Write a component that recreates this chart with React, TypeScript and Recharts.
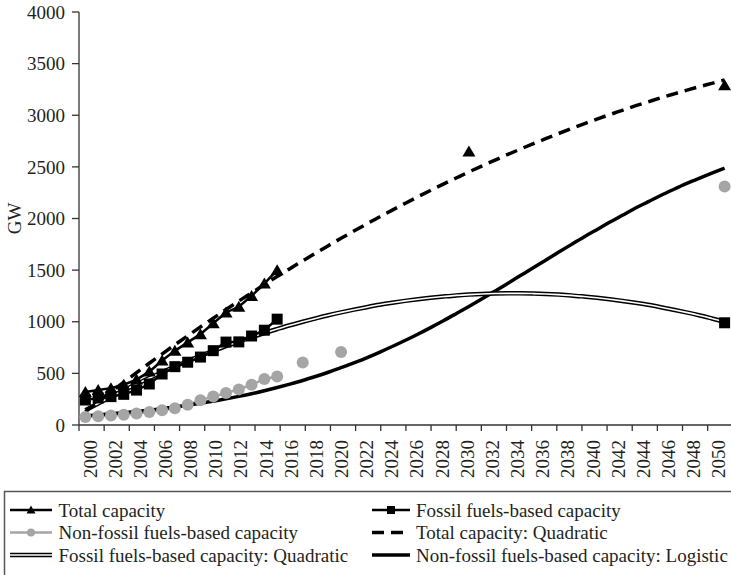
import React from 'react';
import { LineChart, Line, XAxis, YAxis } from 'recharts';

const FONT = "'Liberation Serif', 'Times New Roman', serif";
const INK = '#231f20';
const GREY = '#a5a5a5';

// every year on the x axis
const years = [
  2000, 2001, 2002, 2003, 2004, 2005, 2006, 2007, 2008, 2009,
  2010, 2011, 2012, 2013, 2014, 2015, 2016, 2017, 2018, 2019,
  2020, 2021, 2022, 2023, 2024, 2025, 2026, 2027, 2028, 2029,
  2030, 2031, 2032, 2033, 2034, 2035, 2036, 2037, 2038, 2039,
  2040, 2041, 2042, 2043, 2044, 2045, 2046, 2047, 2048, 2049, 2050,
];

// observed capacity, GW
const obsYears = [2000, 2001, 2002, 2003, 2004, 2005, 2006, 2007, 2008, 2009, 2010, 2011, 2012, 2013, 2014, 2015];
const totalCapacity = [320, 338, 357, 390, 440, 517, 625, 718, 800, 880, 985, 1090, 1145, 1250, 1370, 1500];
const fossilCapacity = [242, 262, 275, 297, 338, 397, 494, 565, 608, 658, 720, 803, 805, 862, 918, 1025];
const nonFossilCapacity = [78, 85, 91, 100, 112, 127, 143, 163, 195, 240, 275, 310, 345, 390, 445, 470];

// later single points
const totalLaterYears = [2030, 2050];
const totalLater = [2650, 3290];
const fossilLaterYears = [2050];
const fossilLater = [990];
const nonFossilLaterYears = [2017, 2020, 2050];
const nonFossilLater = [605, 708, 2310];

// fitted curves, one value per year 2000..2050
const totalQuadratic = [
  129, 225, 321, 414, 507, 598, 688, 777, 864, 950,
  1034, 1118, 1200, 1280, 1360, 1438, 1514, 1590, 1664, 1737,
  1808, 1878, 1947, 2015, 2081, 2146, 2210, 2272, 2333, 2392,
  2451, 2508, 2563, 2618, 2671, 2723, 2773, 2822, 2870, 2917,
  2962, 3006, 3048, 3090, 3129, 3168, 3205, 3241, 3276, 3309, 3342,
];
const fossilQuadratic = [
  142, 208, 273, 336, 396, 455, 511, 566, 618, 669,
  717, 764, 808, 851, 891, 929, 966, 1000, 1032, 1063,
  1091, 1117, 1141, 1164, 1184, 1202, 1218, 1232, 1244, 1255,
  1263, 1269, 1273, 1275, 1275, 1273, 1269, 1263, 1255, 1244,
  1232, 1218, 1202, 1184, 1164, 1141, 1117, 1091, 1063, 1032, 1000,
];
const nonFossilLogistic = [
  89, 98, 108, 119, 131, 144, 159, 174, 192, 210,
  231, 253, 277, 303, 332, 363, 396, 431, 470, 511,
  555, 602, 651, 704, 760, 818, 879, 943, 1009, 1078,
  1148, 1220, 1294, 1369, 1445, 1521, 1596, 1672, 1747, 1821,
  1892, 1963, 2031, 2099, 2161, 2223, 2281, 2337, 2389, 2439, 2487,
];

const xTickLabels = [
  '2000', '2002', '2004', '2006', '2008', '2010', '2012', '2014', '2016', '2018',
  '2020', '2022', '2024', '2026', '2028', '2030', '2032', '2034', '2036', '2038',
  '2040', '2042', '2044', '2046', '2048', '2050',
];
const yTicks = [0, 500, 1000, 1500, 2000, 2500, 3000, 3500, 4000];

const pick = (ys: number[], vs: number[], year: number) => {
  const i = ys.indexOf(year);
  return i >= 0 ? vs[i] : undefined;
};

const data = years.map((year, i) => ({
  year,
  total: pick(obsYears, totalCapacity, year) ?? pick(totalLaterYears, totalLater, year),
  fossil: pick(obsYears, fossilCapacity, year) ?? pick(fossilLaterYears, fossilLater, year),
  nonFossil: pick(obsYears, nonFossilCapacity, year) ?? pick(nonFossilLaterYears, nonFossilLater, year),
  totalQ: totalQuadratic[i],
  fossilQ: fossilQuadratic[i],
  nonFossilL: nonFossilLogistic[i],
}));

// the printed axis groups two years per slot, a touch narrower than the data years
const X_MIN = 1999.5;
const X_MAX = 2050.5;
const SLOT = 1.967;
const tickPositions = xTickLabels.flatMap((_, i) => [X_MIN + SLOT * i, X_MIN + SLOT * (i + 0.5)]);

const XTick = (props: any) => {
  const { x, y, index } = props;
  if (index % 2 === 0) {
    return <line x1={x} x2={x} y1={y - 15} y2={y - 9} stroke="#333" strokeWidth={1.3} />;
  }
  const lx = x - 1.5;
  return (
    <text
      x={lx}
      y={y}
      transform={`rotate(-90, ${lx}, ${y})`}
      textAnchor="end"
      dominantBaseline="central"
      fontSize={19}
      fontFamily={FONT}
      fill={INK}
    >
      {xTickLabels[(index - 1) / 2]}
    </text>
  );
};

const TriangleDot = (props: any) => {
  const { cx, cy, index } = props;
  if (cx == null || cy == null) return <g key={`t${index}`} />;
  return <path key={`t${index}`} d={`M${cx},${cy - 6} L${cx + 6.5},${cy + 5} L${cx - 6.5},${cy + 5} Z`} fill="#000" />;
};

const SquareDot = (props: any) => {
  const { cx, cy, index } = props;
  if (cx == null || cy == null) return <g key={`s${index}`} />;
  return <rect key={`s${index}`} x={cx - 5.5} y={cy - 5.5} width={11} height={11} fill="#000" />;
};

const CircleDot = (props: any) => {
  const { cx, cy, index } = props;
  if (cx == null || cy == null) return <g key={`c${index}`} />;
  return <circle key={`c${index}`} cx={cx} cy={cy} r={6} fill={GREY} />;
};

const Overlay = () => {
  const c1 = 10, c1e = 52, t1 = 58.5;
  const c2 = 372, c2e = 410, t2 = 416;
  const r1 = 510, r2 = 532.5, r3 = 555;
  const txt = { fontSize: 19, fontFamily: FONT, fill: INK, dominantBaseline: 'central' as const };
  return (
    <svg width={731} height={575} style={{ position: 'absolute', left: 0, top: 0, pointerEvents: 'none' }}>
      <text x={14.5} y={218.5} transform="rotate(-90, 14.5, 218.5)" textAnchor="middle" {...txt}>GW</text>
      <rect x={4.5} y={491.5} width={760} height={120} fill="none" stroke="#555" strokeWidth={1.5} />

      <line x1={c1} x2={c1e} y1={r1} y2={r1} stroke="#000" strokeWidth={2.5} />
      <path d={`M${(c1 + c1e) / 2},${r1 - 4.5} L${(c1 + c1e) / 2 + 4.5},${r1 + 3.5} L${(c1 + c1e) / 2 - 4.5},${r1 + 3.5} Z`} fill="#000" />
      <text x={t1} y={r1} {...txt}>Total capacity</text>

      <line x1={c1} x2={c1e} y1={r2} y2={r2} stroke={GREY} strokeWidth={2.5} />
      <circle cx={(c1 + c1e) / 2} cy={r2} r={4} fill={GREY} />
      <text x={t1} y={r2} {...txt}>Non-fossil fuels-based capacity</text>

      <line x1={c1} x2={c1e} y1={r3} y2={r3} stroke="#000" strokeWidth={4.5} />
      <line x1={c1} x2={c1e} y1={r3} y2={r3} stroke="#fff" strokeWidth={1.6} />
      <text x={t1} y={r3} {...txt}>Fossil fuels-based capacity: Quadratic</text>

      <line x1={c2} x2={c2e} y1={r1} y2={r1} stroke="#000" strokeWidth={2.5} />
      <rect x={(c2 + c2e) / 2 - 4} y={r1 - 4} width={8} height={8} fill="#000" />
      <text x={t2} y={r1} {...txt}>Fossil fuels-based capacity</text>

      <line x1={c2} x2={c2e} y1={r2} y2={r2} stroke="#000" strokeWidth={3.5} strokeDasharray="12 7" />
      <text x={t2} y={r2} {...txt}>Total capacity: Quadratic</text>

      <line x1={c2} x2={c2e} y1={r3} y2={r3} stroke="#000" strokeWidth={3.5} />
      <text x={t2} y={r3} {...txt}>Non-fossil fuels-based capacity: Logistic</text>
    </svg>
  );
};

export default function App() {
  return (
    <div style={{ position: 'absolute', left: 0, top: 0, width: 731, height: 575, background: '#fff', fontFamily: FONT }}>
      <LineChart width={731} height={575} data={data} margin={{ top: 12, right: 0, bottom: 84, left: 0 }}>
        <XAxis
          xAxisId="yr"
          type="number"
          dataKey="year"
          domain={[X_MIN, X_MAX]}
          allowDataOverflow
          ticks={tickPositions}
          interval={0}
          height={66}
          tickSize={6}
          tickMargin={9}
          tickLine={false}
          tick={<XTick />}
          axisLine={{ stroke: '#333', strokeWidth: 1.3 }}
        />
        <YAxis
          type="number"
          domain={[0, 4000]}
          ticks={yTicks}
          interval={0}
          width={79}
          tickSize={7}
          tickMargin={7}
          tick={{ fill: INK, fontSize: 19, fontFamily: FONT }}
          axisLine={{ stroke: '#333', strokeWidth: 1.3 }}
          tickLine={{ stroke: '#333', strokeWidth: 1.3 }}
        />
        <Line xAxisId="yr" dataKey="nonFossil" type="linear" stroke={GREY} strokeWidth={2.5} dot={<CircleDot />} activeDot={false} connectNulls={false} isAnimationActive={false} />
        <Line xAxisId="yr" dataKey="nonFossilL" type="monotone" stroke="#000" strokeWidth={3.5} dot={false} activeDot={false} isAnimationActive={false} />
        <Line xAxisId="yr" dataKey="fossilQ" type="monotone" stroke="#000" strokeWidth={4.5} dot={false} activeDot={false} isAnimationActive={false} />
        <Line xAxisId="yr" dataKey="fossilQ" type="monotone" stroke="#fff" strokeWidth={1.6} dot={false} activeDot={false} isAnimationActive={false} />
        <Line xAxisId="yr" dataKey="totalQ" type="monotone" stroke="#000" strokeWidth={3.5} strokeDasharray="12 7" dot={false} activeDot={false} isAnimationActive={false} />
        <Line xAxisId="yr" dataKey="fossil" type="linear" stroke="#000" strokeWidth={2.5} dot={<SquareDot />} activeDot={false} connectNulls={false} isAnimationActive={false} />
        <Line xAxisId="yr" dataKey="total" type="linear" stroke="#000" strokeWidth={2.5} dot={<TriangleDot />} activeDot={false} connectNulls={false} isAnimationActive={false} />
      </LineChart>
      <Overlay />
    </div>
  );
}
